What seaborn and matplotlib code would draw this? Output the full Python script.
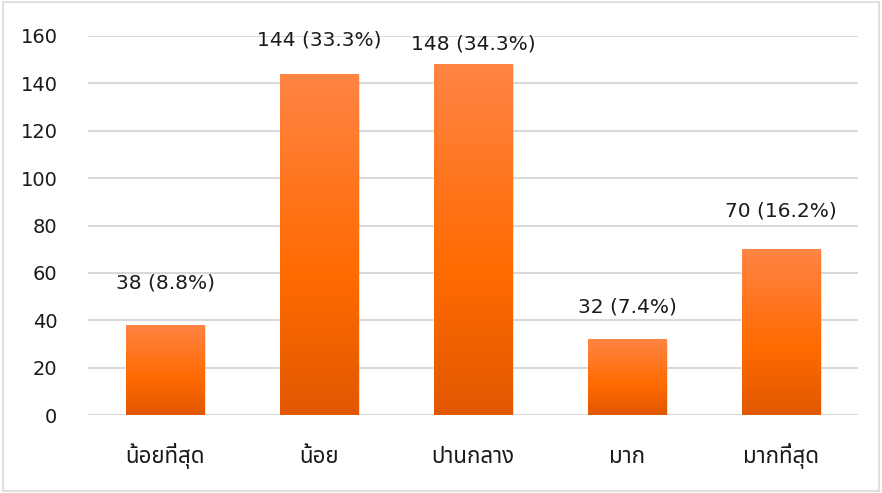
import numpy as np
import matplotlib
matplotlib.use('Agg')
import matplotlib.pyplot as plt
import matplotlib.font_manager as fm
import seaborn as sns
import pandas as pd

# data
categories = ['น้อยที่สุด', 'น้อย', 'ปานกลาง', 'มาก', 'มากที่สุด']
counts = [38, 144, 148, 32, 70]
percents = [8.8, 33.3, 34.3, 7.4, 16.2]
label_y = [55.7, 158.2, 156.5, 45.6, 86.0]

df = pd.DataFrame({'level': categories, 'count': counts})

sns.set_style('white')
names = {f.name for f in fm.fontManager.ttflist}
fams = ['DejaVu Sans'] + [f for f in ['Tahoma', 'Noto Sans Thai', 'Noto Sans Thai UI', 'Loma',
                                      'Garuda', 'Noto Sans'] if f in names]
plt.rcParams['font.family'] = fams

fig, ax = plt.subplots(figsize=(8.82, 4.93), dpi=100)
fig.subplots_adjust(left=0.0998, right=0.973, bottom=0.158, top=0.927)

sns.barplot(data=df, x='level', y='count', color='#FF6A00', width=0.51, ax=ax, zorder=3)

# vertical orange gradient on each bar
grad = np.linspace(0, 1, 256).reshape(-1, 1)
cmap = matplotlib.colors.LinearSegmentedColormap.from_list(
    'og', [(0, '#E05800'), (0.4, '#FF6A00'), (1, '#FF8444')])
for p in ax.patches:
    x0, y0 = p.get_x(), p.get_y()
    w, h = p.get_width(), p.get_height()
    ax.add_patch(plt.Rectangle((x0 + 0.012, y0), w, h - 0.6, color='#000000',
                               alpha=0.12, zorder=2.5, lw=0))
    im = ax.imshow(grad, extent=[x0, x0 + w, y0, y0 + h], origin='lower',
                   cmap=cmap, aspect='auto', zorder=3.5)
    im.set_clip_path(p)

for i, (c, pc, ly) in enumerate(zip(counts, percents, label_y)):
    ax.text(i, ly, f'{c} ({pc}%)', ha='center', va='center', fontsize=14.5,
            color='#1a1a1a', zorder=5)

ax.set_xlim(-0.5, 4.5)
ax.set_ylim(0, 160)
ax.set_yticks(range(0, 161, 20))
ax.yaxis.grid(True, color='#d9d9d9', lw=1.5, zorder=0)
ax.set_axisbelow(True)
for s in ax.spines.values():
    s.set_visible(False)
ax.set_xlabel('')
ax.set_ylabel('')
ax.tick_params(axis='y', labelsize=14, length=0, pad=22, labelcolor='#1a1a1a')
ax.tick_params(axis='x', labelsize=16, length=0, pad=34.5, labelcolor='#1a1a1a')
for t in ax.get_xticklabels():
    t.set_verticalalignment('baseline')

# outer frame
fig.add_artist(plt.Rectangle((0.003, 0.004), 0.994, 0.992, transform=fig.transFigure,
                             fill=False, ec='#d9d9d9', lw=1.2))

fig.savefig('out.png', dpi=100)
